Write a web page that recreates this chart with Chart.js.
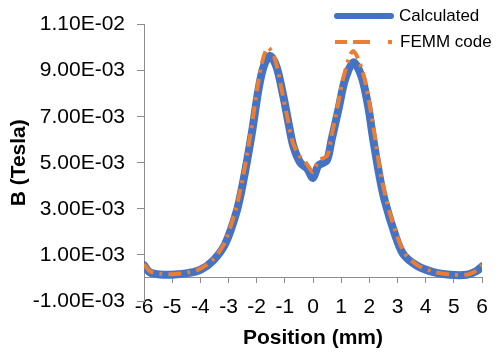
<!DOCTYPE html>
<html>
<head>
<meta charset="utf-8">
<script src="https://cdn.jsdelivr.net/npm/chart.js@4.4.1/dist/chart.umd.min.js"></script>
<style>
  body { margin: 0; background: #fff; }
  #wrap { width: 500px; height: 354px; position: relative; }
</style>
</head>
<body>
<div id="wrap"><canvas id="bChart"></canvas></div>
<script>
// Position (mm) and field B (Tesla)
const calcPos = [-6.0, -5.8, -5.43, -4.9, -4.4, -4.0, -3.55, -3.12, -2.71, -2.48, -2.17, -1.94, -1.76, -1.53, -1.29, -1.05, -0.87, -0.70, -0.46, -0.20, 0.0, 0.19, 0.49, 0.66, 0.90, 1.13, 1.43, 1.73, 1.96, 2.14, 2.38, 2.56, 2.91, 3.20, 3.68, 4.27, 4.86, 5.46, 5.81, 6.0];
const calcB = [0.00055, 0.00025, 0.00015, 0.00015, 0.00022, 0.00035, 0.00075, 0.00147, 0.00289, 0.00417, 0.0063, 0.00815, 0.00915, 0.00965, 0.00915, 0.00787, 0.00673, 0.00573, 0.00502, 0.00473, 0.00434, 0.00488, 0.0051, 0.0060, 0.0073, 0.00858, 0.00936, 0.00872, 0.00744, 0.0060, 0.0043, 0.0033, 0.00189, 0.00104, 0.00054, 0.00025, 0.00014, 0.00014, 0.0003, 0.0005];

const femmPos = [-6.0, -5.8, -5.43, -4.9, -4.4, -4.0, -3.55, -3.15, -2.75, -2.5, -2.2, -1.97, -1.8, -1.6, -1.35, -1.1, -0.9, -0.72, -0.48, -0.22, 0.0, 0.2, 0.5, 0.65, 0.88, 1.1, 1.42, 1.75, 2.0, 2.2, 2.42, 2.7, 2.95, 3.25, 3.7, 4.3, 4.9, 5.5, 5.8, 6.0];
const femmB = [0.0006, 0.0003, 0.00018, 0.00017, 0.00025, 0.0004, 0.0008, 0.0015, 0.00295, 0.0043, 0.0064, 0.0083, 0.0094, 0.0100, 0.0095, 0.0081, 0.0069, 0.0059, 0.0053, 0.00495, 0.0046, 0.0051, 0.0053, 0.0061, 0.0075, 0.0088, 0.00985, 0.0090, 0.0076, 0.0061, 0.0044, 0.00295, 0.00195, 0.00108, 0.00056, 0.00026, 0.00015, 0.00015, 0.00032, 0.00055];

const seriesNames = ['Calculated', 'FEMM code'];
const yTicks = { min: -0.001, max: 0.011, step: 0.002 };
const xTicks = { min: -6, max: 6, step: 1 };

const FONT = "'Liberation Sans', Arial, sans-serif";
const BLUE = '#4472C4';
const ORANGE = '#ED7D31';
const AXIS = '#8c8c8c';

function sci(v) {
  const s = Number(v).toExponential(2).toUpperCase();
  return s.replace(/E([+-])(\d+)$/, (m, sg, d) => 'E' + sg + d.padStart(2, '0'));
}

const toPts = (xs, ys) => xs.map((x, i) => ({ x: x, y: ys[i] }));

// legend in the top right corner, Excel style
const legendPlugin = {
  id: 'excelLegend',
  afterDraw(chart) {
    const ctx = chart.ctx;
    ctx.save();
    ctx.lineCap = 'round';
    ctx.strokeStyle = BLUE;
    ctx.lineWidth = 6;
    ctx.beginPath();
    ctx.moveTo(337, 16);
    ctx.lineTo(391, 16);
    ctx.stroke();

    ctx.lineCap = 'butt';
    ctx.strokeStyle = ORANGE;
    ctx.lineWidth = 4;
    ctx.setLineDash([12, 6, 17, 18, 4, 10]);
    ctx.beginPath();
    ctx.moveTo(335, 42);
    ctx.lineTo(393, 42);
    ctx.stroke();
    ctx.setLineDash([]);

    ctx.fillStyle = '#000';
    ctx.font = '17px ' + FONT;
    ctx.textBaseline = 'middle';
    ctx.textAlign = 'left';
    ctx.fillText(seriesNames[0], 399, 16);
    ctx.fillText(seriesNames[1], 400, 42);
    ctx.restore();
  }
};

new Chart(document.getElementById('bChart'), {
  type: 'line',
  plugins: [legendPlugin],
  data: {
    datasets: [
      {
        label: seriesNames[0],
        data: toPts(calcPos, calcB),
        borderColor: BLUE,
        borderWidth: 8,
        pointRadius: 0,
        tension: 0.3,
        borderJoinStyle: 'round',
        borderCapStyle: 'round',
        order: 1
      },
      {
        label: seriesNames[1],
        data: toPts(femmPos, femmB),
        borderColor: ORANGE,
        borderWidth: 4,
        borderDash: [13, 6, 3, 6],
        pointRadius: 0,
        tension: 0.3,
        order: 0
      }
    ]
  },
  options: {
    responsive: true,
    maintainAspectRatio: false,
    animation: false,
    layout: { padding: { top: 20, right: 18, bottom: 53, left: 0 } },
    plugins: {
      legend: { display: false },
      tooltip: { enabled: false }
    },
    scales: {
      x: {
        type: 'linear',
        position: { y: 0 },
        min: xTicks.min,
        max: xTicks.max,
        grid: { drawOnChartArea: false, drawTicks: true, tickLength: 5, color: AXIS },
        border: { color: AXIS, width: 1 },
        ticks: {
          stepSize: xTicks.step,
          padding: 12,
          color: '#000',
          font: { family: FONT, size: 21 }
        },
        title: {
          display: true,
          text: 'Position (mm)',
          color: '#000',
          padding: { top: -7, bottom: 0 },
          font: { family: FONT, size: 21, weight: 'bold' }
        }
      },
      y: {
        min: yTicks.min,
        max: yTicks.max,
        afterFit(s) { s.width = 144; },
        grid: { drawOnChartArea: false, drawTicks: true, tickLength: 7, color: AXIS },
        border: { color: AXIS, width: 1 },
        ticks: {
          stepSize: yTicks.step,
          padding: 12,
          color: '#000',
          font: { family: FONT, size: 21 },
          callback: (v) => sci(v)
        },
        title: {
          display: true,
          text: 'B (Tesla)',
          color: '#000',
          padding: { top: 7, bottom: 0 },
          font: { family: FONT, size: 21, weight: 'bold' }
        }
      }
    }
  }
});
</script>
</body>
</html>
